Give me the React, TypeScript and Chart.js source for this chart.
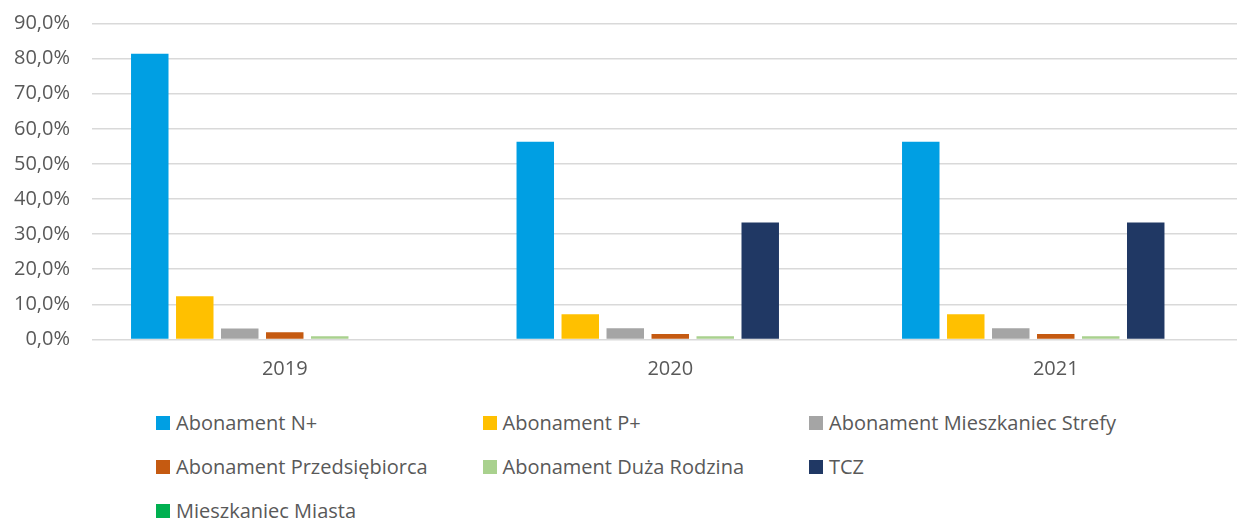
import React, { useEffect, useRef } from "react";
import { Chart, registerables } from "chart.js";

Chart.register(...registerables);

// ---------- data ----------
const categories = ["2019", "2020", "2021"];
const seriesNames = [
  "Abonament N+",
  "Abonament P+",
  "Abonament Mieszkaniec Strefy",
  "Abonament Przedsiębiorca",
  "Abonament Duża Rodzina",
  "TCZ",
  "Mieszkaniec Miasta",
];
const abonamentN = [81.4, 56.3, 56.3];
const abonamentP = [12.3, 7.2, 7.2];
const mieszkaniecStrefy = [3.1, 3.2, 3.2];
const przedsiebiorca = [2.1, 1.6, 1.6];
const duzaRodzina = [0.9, 0.9, 0.9];
const tcz = [0, 33.3, 33.3];
const mieszkaniecMiasta = [0, 0, 0];
const seriesValues = [abonamentN, abonamentP, mieszkaniecStrefy, przedsiebiorca, duzaRodzina, tcz, mieszkaniecMiasta];
const seriesColors = ["#009FE3", "#FFC000", "#A5A5A5", "#C55A11", "#A9D18E", "#203864", "#00B050"];
const yMin = 0;
const yMax = 90;
const yStep = 10;

// ---------- layout constants ----------
const FONT = "'Open Sans', 'DejaVu Sans', sans-serif";
const TEXT_COLOR = "#595959";
const CANVAS_W = 1260;
const CANVAS_H = 400;
const LEGEND_LEFT = 156;
const LEGEND_COL_W = 326.5;
const LEGEND_TOP = 423;
const LEGEND_ROW_H = 44;
const LEGEND_COLS = 3;

function formatPct(v: number): string {
  return v.toFixed(1).replace(".", ",") + "%";
}

export default function App() {
  const canvasRef = useRef<HTMLCanvasElement | null>(null);

  useEffect(() => {
    if (!canvasRef.current) return;
    const chart = new Chart(canvasRef.current, {
      type: "bar",
      data: {
        labels: categories,
        datasets: seriesNames.map((name, i) => ({
          label: name,
          data: seriesValues[i],
          backgroundColor: seriesColors[i],
          borderWidth: 0,
          categoryPercentage: 0.817,
          barPercentage: 0.833,
        })),
      },
      options: {
        animation: false,
        responsive: false,
        devicePixelRatio: 1,
        layout: { padding: { top: 23.5, right: 11.5, left: 0, bottom: 0 } },
        plugins: {
          legend: { display: false },
          tooltip: { enabled: false },
          title: { display: false },
        },
        scales: {
          x: {
            grid: { display: false, drawTicks: false },
            border: { display: false },
            ticks: {
              color: TEXT_COLOR,
              font: { family: FONT, size: 20 },
              padding: 18,
              maxRotation: 0,
            },
            afterFit: (s: any) => {
              s.height = 60.5;
              s.paddingLeft = 0;
              s.paddingRight = 0;
            },
          },
          y: {
            min: yMin,
            max: yMax,
            grid: { color: "#d9d9d9", lineWidth: 1.6, drawTicks: false },
            border: { display: false },
            ticks: {
              stepSize: yStep,
              color: TEXT_COLOR,
              font: { family: FONT, size: 20 },
              padding: 22,
              callback: (v: any) => formatPct(Number(v)),
            },
            afterFit: (s: any) => {
              s.width = 92;
              s.paddingTop = 0;
              s.paddingBottom = 0;
            },
          },
        },
      },
    });
    return () => chart.destroy();
  }, []);

  return (
    <div
      style={{
        position: "fixed",
        left: 0,
        top: 0,
        width: 1237,
        height: 520,
        overflow: "hidden",
        background: "#ffffff",
      }}
    >
      <canvas
        ref={canvasRef}
        width={CANVAS_W}
        height={CANVAS_H}
        style={{ position: "absolute", left: 0, top: 0, width: CANVAS_W, height: CANVAS_H }}
      />
      {seriesNames.map((name, i) => {
        const col = i % LEGEND_COLS;
        const row = Math.floor(i / LEGEND_COLS);
        return (
          <div
            key={name}
            style={{
              position: "absolute",
              left: LEGEND_LEFT + col * LEGEND_COL_W,
              top: LEGEND_TOP + row * LEGEND_ROW_H - 14,
              height: 28,
              display: "flex",
              alignItems: "center",
              whiteSpace: "nowrap",
              fontFamily: FONT,
              fontSize: 20,
              color: TEXT_COLOR,
              lineHeight: "28px",
            }}
          >
            <span
              style={{
                display: "inline-block",
                width: 14,
                height: 14,
                background: seriesColors[i],
                marginRight: 6,
              }}
            />
            <span>{name}</span>
          </div>
        );
      })}
    </div>
  );
}
